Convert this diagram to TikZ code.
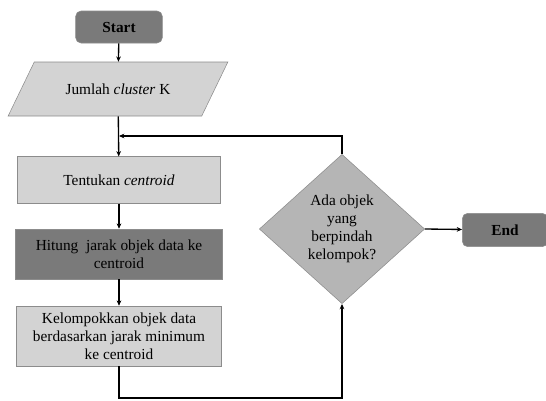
\documentclass[tikz,border=0pt]{standalone}
\usepackage{fontspec}
\setmainfont{Liberation Serif}
\usetikzlibrary{shapes.geometric,arrows.meta}

\definecolor{darkfill}{HTML}{7A7A7A}
\definecolor{lightfill}{HTML}{D3D3D3}
\definecolor{midfill}{HTML}{B5B5B5}
\definecolor{edge}{HTML}{8C8C8C}

\begin{document}
\begin{tikzpicture}[x=0.75pt,y=-0.75pt,
    font=\fontsize{11.5}{13.5}\selectfont,
    terminal/.style={draw=edge,fill=darkfill,rounded corners=4pt,minimum width=65pt,minimum height=24pt,font=\fontsize{11.5}{13.5}\selectfont\bfseries},
    process/.style={draw=edge,fill=lightfill,align=center,minimum width=154pt,inner sep=2pt},
    inputbox/.style={trapezium,trapezium stretches=true,trapezium left angle=48,trapezium right angle=132,draw=edge,fill=lightfill,minimum width=165pt,minimum height=40.5pt},
    decision/.style={diamond,draw=edge,fill=midfill,align=center,inner sep=0pt,minimum width=124pt,minimum height=112pt,font=\fontsize{11.5}{13.5}\selectfont},
    flow/.style={-{Stealth[length=4pt,width=3.5pt]},line width=1pt}]
    \useasboundingbox (0,0) rectangle (546,400);

    \node[terminal] (start) at (119,27) {Start};
    \node[inputbox] (jumlah) at (118,89) {Jumlah \textit{cluster} K};
    \node[process,minimum height=35pt,minimum width=152pt] (tentukan) at (119,180) {Tentukan \textit{centroid}};
    \node[process,minimum height=37.5pt,fill=darkfill,minimum width=155pt] (hitung) at (119,254) {Hitung\ \ jarak objek data ke\\centroid};
    \node[process,minimum height=45pt] (kelompok) at (119,336) {Kelompokkan objek data\\berdasarkan jarak minimum\\ke centroid};
    \node[decision] (cek) at (342,229) {Ada objek\\yang\\berpindah\\kelompok?};
    \node[terminal,minimum width=64pt,minimum height=25pt] (end) at (505,230) {End};

    \coordinate (join) at (119,136);
    \coordinate (bawah) at (119,398);

    \draw[flow] (start) -- (jumlah);
    \draw[flow] (jumlah) -- (tentukan);
    \draw[flow] (tentukan) -- (hitung);
    \draw[flow] (hitung) -- (kelompok);
    \draw[flow] (kelompok.south) -- (bawah) -| (cek.south);
    \draw[flow] (cek.east) -- (end);
    \draw[flow] (cek.north) |- (join);
\end{tikzpicture}
\end{document}
